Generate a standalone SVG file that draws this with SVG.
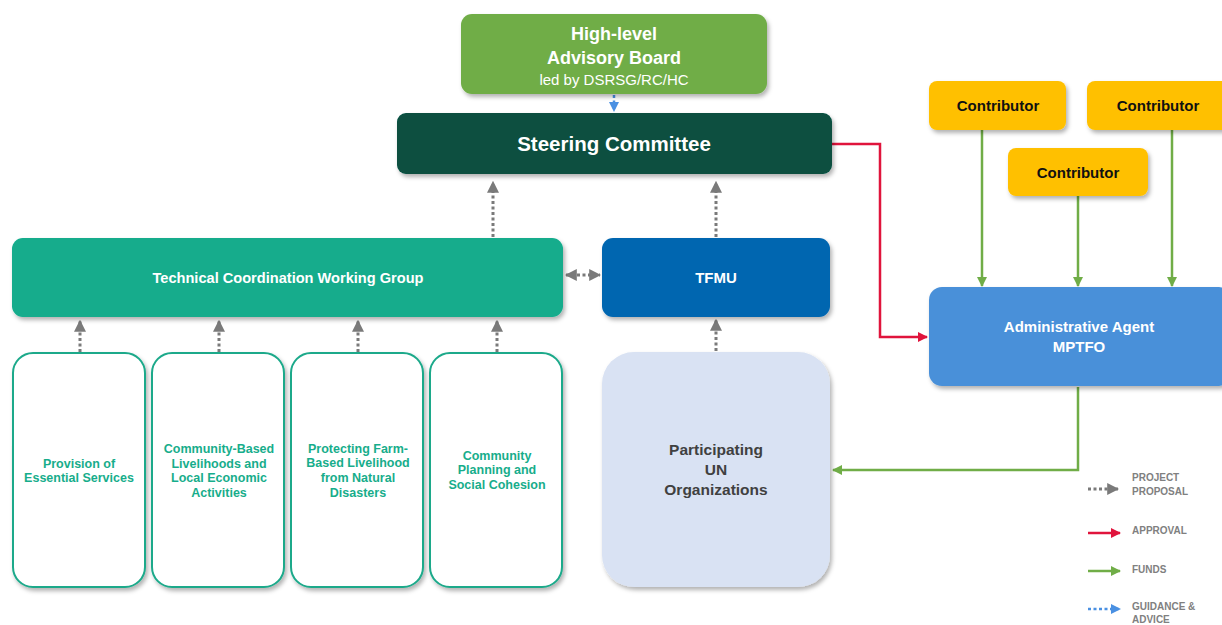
<svg xmlns="http://www.w3.org/2000/svg" width="1222" height="625" viewBox="0 0 1222 625">
<style>
text{font-family:"Liberation Sans",Arial,sans-serif;font-weight:bold;text-anchor:middle}
.w{fill:#fff}
.n{font-weight:normal}
.sub{fill:#fff;stroke:#1ba98a;stroke-width:2}
.subt{fill:#17ad8b;font-size:12.5px}
.prop{fill:none;stroke:#7a7a7a;stroke-width:3;stroke-dasharray:3 2.5}
.guid{fill:none;stroke:#4a90e2;stroke-width:2.5;stroke-dasharray:3 2.5}
.appr{fill:none;stroke:#e0143c;stroke-width:2.5}
.fund{fill:none;stroke:#70ad47;stroke-width:2.5}
.leg{fill:#808080;font-size:10px;text-anchor:start}
.con{fill:#111;font-size:15px}
</style>
<defs>
<filter id="sh" x="-10%" y="-10%" width="125%" height="130%">
<feDropShadow dx="2" dy="3" stdDeviation="2" flood-color="#000" flood-opacity="0.3"/>
</filter>
<marker id="ag" viewBox="0 0 10 10" refX="9" refY="5" markerWidth="4" markerHeight="4" orient="auto-start-reverse" markerUnits="strokeWidth"><path d="M0,0 L10,5 L0,10 z" fill="#7a7a7a"/></marker>
<marker id="ab" viewBox="0 0 10 10" refX="9" refY="5" markerWidth="4" markerHeight="4" orient="auto" markerUnits="strokeWidth"><path d="M0,0 L10,5 L0,10 z" fill="#4a90e2"/></marker>
<marker id="ar" viewBox="0 0 10 10" refX="9" refY="5" markerWidth="4" markerHeight="4" orient="auto" markerUnits="strokeWidth"><path d="M0,0 L10,5 L0,10 z" fill="#e0143c"/></marker>
<marker id="af" viewBox="0 0 10 10" refX="9" refY="5" markerWidth="4" markerHeight="4" orient="auto" markerUnits="strokeWidth"><path d="M0,0 L10,5 L0,10 z" fill="#70ad47"/></marker>
</defs>
<rect width="1222" height="625" fill="#fff"/>

<g id="connectors">
<path class="guid" d="M614,95 V111" marker-end="url(#ab)"/>
<path class="prop" d="M493,237 V182" marker-end="url(#ag)"/>
<path class="prop" d="M716,237 V182" marker-end="url(#ag)"/>
<path class="prop" d="M566,275 H600" marker-start="url(#ag)" marker-end="url(#ag)"/>
<path class="prop" d="M80,352 V321" marker-end="url(#ag)"/>
<path class="prop" d="M219,352 V321" marker-end="url(#ag)"/>
<path class="prop" d="M358,352 V321" marker-end="url(#ag)"/>
<path class="prop" d="M497,352 V321" marker-end="url(#ag)"/>
<path class="prop" d="M716,351 V320" marker-end="url(#ag)"/>
<path class="appr" d="M832,144 H880 V337 H927" marker-end="url(#ar)"/>
<path class="fund" d="M982,130 V286" marker-end="url(#af)"/>
<path class="fund" d="M1078,196 V286" marker-end="url(#af)"/>
<path class="fund" d="M1172,130 V286" marker-end="url(#af)"/>
<path class="fund" d="M1078,387 V470 H833" marker-end="url(#af)"/>
</g>

<g id="advisory-board">
<rect x="461" y="14" width="306" height="80" rx="11" fill="#70ad47" filter="url(#sh)"/>
<text class="w" x="614" y="40" font-size="18">High-level</text>
<text class="w" x="614" y="64" font-size="18">Advisory Board</text>
<text class="w n" x="614" y="85" font-size="15">led by DSRSG/RC/HC</text>
</g>

<g id="steering-committee">
<rect x="397" y="113" width="435" height="61" rx="9" fill="#074f40" filter="url(#sh)"/>
<text class="w" x="614" y="151" font-size="20.5">Steering Committee</text>
</g>

<g id="tcwg">
<rect x="12" y="238" width="551" height="79" rx="11" fill="#12ac8c" filter="url(#sh)"/>
<text class="w" x="288" y="283" font-size="14.6">Technical Coordination Working Group</text>
</g>

<g id="tfmu">
<rect x="602" y="238" width="228" height="79" rx="11" fill="#0466b0" filter="url(#sh)"/>
<text class="w" x="716" y="283" font-size="15">TFMU</text>
</g>

<g id="provision">
<rect class="sub" x="13" y="353" width="132" height="234" rx="20" filter="url(#sh)"/>
<text class="subt" x="79" y="468">Provision of</text>
<text class="subt" x="79" y="482">Essential Services</text>
</g>
<g id="livelihoods">
<rect class="sub" x="152" y="353" width="132" height="234" rx="20" filter="url(#sh)"/>
<text class="subt" x="219" y="453">Community-Based</text>
<text class="subt" x="219" y="468">Livelihoods and</text>
<text class="subt" x="219" y="482">Local Economic</text>
<text class="subt" x="219" y="497">Activities</text>
</g>
<g id="farm">
<rect class="sub" x="291" y="353" width="132" height="234" rx="20" filter="url(#sh)"/>
<text class="subt" x="358" y="453">Protecting Farm-</text>
<text class="subt" x="358" y="467">Based Livelihood</text>
<text class="subt" x="358" y="482">from Natural</text>
<text class="subt" x="358" y="497">Disasters</text>
</g>
<g id="community">
<rect class="sub" x="430" y="353" width="132" height="234" rx="20" filter="url(#sh)"/>
<text class="subt" x="497" y="460">Community</text>
<text class="subt" x="497" y="474">Planning and</text>
<text class="subt" x="497" y="489">Social Cohesion</text>
</g>

<g id="participating-un">
<rect x="602" y="352" width="228" height="235" rx="32" fill="#d9e2f3" filter="url(#sh)"/>
<text x="716" y="455" font-size="15.5" fill="#404040">Participating</text>
<text x="716" y="475" font-size="15.5" fill="#404040">UN</text>
<text x="716" y="495" font-size="15.5" fill="#404040">Organizations</text>
</g>

<g id="contributor-1">
<rect x="929" y="81" width="137" height="49" rx="8" fill="#ffc000" filter="url(#sh)"/>
<text class="con" x="998" y="111">Contributor</text>
</g>
<g id="contributor-2">
<rect x="1087" y="81" width="145" height="49" rx="8" fill="#ffc000" filter="url(#sh)"/>
<text class="con" x="1158" y="111">Contributor</text>
</g>
<g id="contributor-3">
<rect x="1008" y="148" width="140" height="48" rx="8" fill="#ffc000" filter="url(#sh)"/>
<text class="con" x="1078" y="178">Contributor</text>
</g>

<g id="administrative-agent">
<rect x="929" y="287" width="303" height="99" rx="13" fill="#4a90d9" filter="url(#sh)"/>
<text class="w" x="1079" y="332" font-size="15">Administrative Agent</text>
<text class="w" x="1079" y="352" font-size="15">MPTFO</text>
</g>

<g id="legend">
<path class="prop" d="M1088,489 H1118" marker-end="url(#ag)"/>
<text class="leg" x="1132" y="481">PROJECT</text>
<text class="leg" x="1132" y="495">PROPOSAL</text>
<path class="appr" d="M1088,533 H1120" marker-end="url(#ar)"/>
<text class="leg" x="1132" y="534">APPROVAL</text>
<path class="fund" d="M1088,571 H1120" marker-end="url(#af)"/>
<text class="leg" x="1132" y="573">FUNDS</text>
<path class="guid" d="M1088,609 H1120" marker-end="url(#ab)"/>
<text class="leg" x="1132" y="610">GUIDANCE &amp;</text>
<text class="leg" x="1132" y="623">ADVICE</text>
</g>
</svg>
